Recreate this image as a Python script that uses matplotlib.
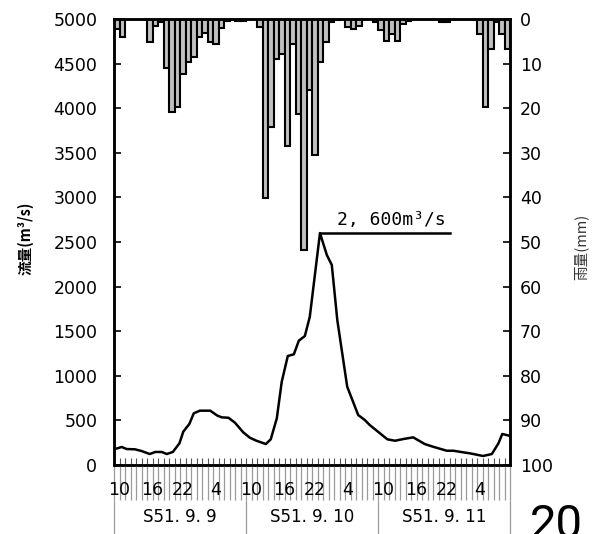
import numpy as np
import matplotlib
matplotlib.use('Agg')
import matplotlib.pyplot as plt

plt.rcParams['font.family'] = ['DejaVu Sans', 'Noto Sans CJK JP']

# hourly rainfall (mm), starting 10:00 on S51.9.9
rain = [2.2, 4.1, 0, 0, 0, 0, 5.2, 1.5, 0.6, 10.9, 20.9, 19.7,
        12.3, 9.7, 8.6, 4.1, 3.2, 5.2, 5.6, 2.1, 0.5, 0, 0.4, 0.4,
        0, 0, 1.8, 40.2, 24.2, 9.0, 7.8, 28.4, 5.5, 21.3, 51.7, 15.9,
        30.5, 9.7, 5.2, 0.6, 0.3, 0, 1.9, 2.2, 1.5, 0, 0, 0.7,
        2.4, 4.9, 3.4, 4.9, 1.1, 0.5, 0, 0, 0, 0, 0, 0.7,
        0.7, 0, 0, 0, 0, 0, 3.4, 19.8, 6.7, 0.7, 3.4, 6.7]

# discharge (m3/s) against elapsed hours
flow_t = [0.2, 1.4, 2.3, 3.8, 5.0, 6.5, 7.5, 8.7, 9.6, 10.7, 11.9, 12.6,
          13.7, 14.5, 15.6, 17.5, 18.8, 19.6, 20.8, 22.0, 23.5, 24.7, 25.9, 27.6,
          28.5, 29.6, 30.5, 31.6, 32.7, 33.6, 34.7, 35.6, 37.45, 38.7, 39.6, 40.6,
          42.4, 44.4, 45.6, 46.5, 49.7, 51.1, 52.6, 54.4, 56.5, 58.0, 60.5, 61.7,
          63.5, 64.7, 67.1, 68.7, 69.9, 70.6, 71.8]
flow = [179, 202, 179, 176, 157, 123, 146, 146, 123, 146, 243, 374,
        460, 579, 609, 609, 553, 534, 530, 474, 366, 306, 272, 235,
        288, 523, 934, 1222, 1241, 1393, 1446, 1662, 2600, 2354, 2242, 1625,
        878, 560, 504, 448, 288, 272, 291, 310, 235, 205, 160, 160,
        142, 131, 101, 123, 243, 348, 329]

peak_t = 37.45
peak_q = 2600

hour_labels = ['10', '16', '22', '4']
hour_label_pos = [0.9, 6.9, 12.5, 18.5]
days = ['S51. 9. 9', 'S51. 9. 10', 'S51. 9. 11']

fig = plt.figure(figsize=(5.92, 5.34), dpi=100)
ax = fig.add_axes([114/592, 1-465/534, 396/592, 446/534])
ax2 = ax.twinx()

ax.set_zorder(ax2.get_zorder() + 1)
ax.patch.set_visible(False)

hours = np.arange(len(rain))
ax2.bar(hours + 0.5, rain, width=1.0, color='#c0c0c0', edgecolor='black', linewidth=1.5)
ax2.set_ylim(100, 0)
ax2.set_yticks(np.arange(0, 101, 10))

ax.plot(flow_t, flow, color='black', lw=1.8)
ax.plot([peak_t, 61.1], [peak_q, peak_q], color='black', lw=1.8)
ax.text(50.5, peak_q + 50, '2, 600m³/s', ha='center', va='bottom', fontsize=13,
        family='DejaVu Sans Mono')

ax.set_xlim(0, 72)
ax.set_ylim(0, 5000)
ax.set_yticks(np.arange(0, 5001, 500))

ax.set_xticks(np.arange(0, 73))
ax.tick_params(axis='x', direction='in', length=5, width=0.8, color='#555', labelbottom=False)
ax.tick_params(axis='y', direction='in', length=5, width=1.2, pad=12, labelsize=12.5)
ax2.tick_params(axis='y', direction='in', length=5, width=1.2, pad=7, labelsize=12.5)
for a in (ax, ax2):
    for s in a.spines.values():
        s.set_linewidth(1.8)

xt = ax.get_xaxis_transform()
ax.vlines(np.arange(0, 73), -0.078, 0, transform=xt, colors='#9a9a9a', lw=0.9, clip_on=False)
ax.vlines([0, 24, 48, 72], -0.16, -0.078, transform=xt, colors='#9a9a9a', lw=0.9, clip_on=False)
for d in range(3):
    for lab, p in zip(hour_labels, hour_label_pos):
        ax.text(d * 24 + p, -0.055, lab, transform=xt, ha='center', va='center', fontsize=12.5)
    ax.text(d * 24 + 12, -0.117, days[d], transform=xt, ha='center', va='center', fontsize=12)

fig.text(25/592, 1-238/534, '流量(m³/s)', rotation=90, ha='center', va='center', fontsize=10.5,
         family=['Noto Sans CJK JP', 'DejaVu Sans'], fontweight='bold')
fig.text(581/592, 1-247/534, '雨量(mm)', rotation=90, ha='center', va='center', fontsize=10.5,
         family=['Noto Sans CJK JP', 'DejaVu Sans'], color='#333')
fig.text(530/592, -4/534, '20', ha='left', va='baseline', fontsize=34, family='Roboto')

fig.savefig('out.png', dpi=100)
